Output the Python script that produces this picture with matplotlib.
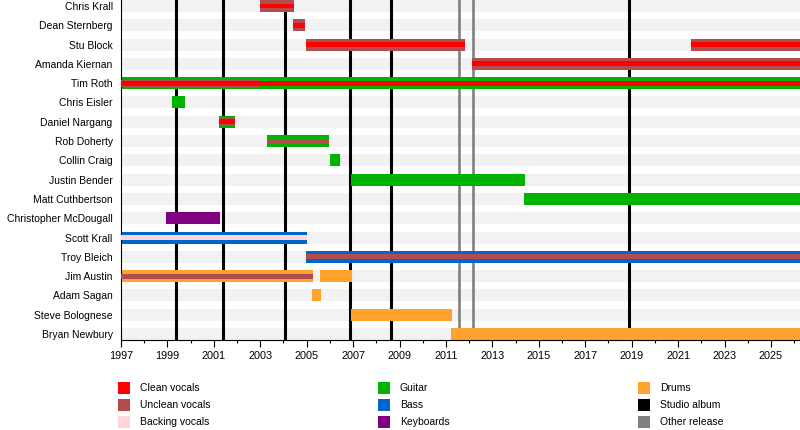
import matplotlib
matplotlib.use("Agg")
import matplotlib.pyplot as plt
from matplotlib.patches import Rectangle

plt.rcParams['font.family'] = ['Liberation Sans', 'DejaVu Sans']

# ---------------- data ----------------
members = ["Chris Krall", "Dean Sternberg", "Stu Block", "Amanda Kiernan", "Tim Roth",
           "Chris Eisler", "Daniel Nargang", "Rob Doherty", "Collin Craig", "Justin Bender",
           "Matt Cuthbertson", "Christopher McDougall", "Scott Krall", "Troy Bleich",
           "Jim Austin", "Adam Sagan", "Steve Bolognese", "Bryan Newbury"]

start_year = 1997
end_year = 2026.25   # "present"

# each period: member, role, start, end, rank (0 = primary role, 1 = second, 2 = third)
bar_member = ["Chris Krall", "Chris Krall",
              "Dean Sternberg", "Dean Sternberg",
              "Stu Block", "Stu Block", "Stu Block", "Stu Block",
              "Amanda Kiernan", "Amanda Kiernan",
              "Tim Roth", "Tim Roth", "Tim Roth",
              "Chris Eisler",
              "Daniel Nargang", "Daniel Nargang", "Daniel Nargang",
              "Rob Doherty", "Rob Doherty",
              "Collin Craig",
              "Justin Bender",
              "Matt Cuthbertson",
              "Christopher McDougall",
              "Scott Krall", "Scott Krall",
              "Troy Bleich", "Troy Bleich",
              "Jim Austin", "Jim Austin", "Jim Austin",
              "Adam Sagan",
              "Steve Bolognese",
              "Bryan Newbury"]
bar_role = ["Unclean vocals", "Clean vocals",
            "Unclean vocals", "Clean vocals",
            "Unclean vocals", "Clean vocals", "Unclean vocals", "Clean vocals",
            "Unclean vocals", "Clean vocals",
            "Guitar", "Unclean vocals", "Clean vocals",
            "Guitar",
            "Guitar", "Unclean vocals", "Clean vocals",
            "Guitar", "Unclean vocals",
            "Guitar",
            "Guitar",
            "Guitar",
            "Keyboards",
            "Bass", "Backing vocals",
            "Bass", "Unclean vocals",
            "Drums", "Unclean vocals", "Drums",
            "Drums",
            "Drums",
            "Drums"]
bar_start = [2003.0, 2003.0,
             2004.42, 2004.42,
             2004.98, 2004.98, 2021.56, 2021.56,
             2012.13, 2012.13,
             1997.0, 1997.0, 1997.0,
             1999.2,
             2001.22, 2001.22, 2001.22,
             2003.29, 2003.29,
             2006.0,
             2006.9,
             2014.36,
             1998.94,
             1997.0, 1997.0,
             2004.98, 2004.98,
             1997.0, 1997.0, 2005.58,
             2005.23,
             2006.9,
             2011.2]
bar_end = [2004.45, 2004.45,
           2004.93, 2004.93,
           2011.82, 2011.82, end_year, end_year,
           end_year, end_year,
           end_year, 2003.0, end_year,
           1999.76,
           2001.91, 2001.91, 2001.91,
           2005.96, 2005.96,
           2006.44,
           2014.4,
           end_year,
           2001.27,
           2005.0, 2005.0,
           end_year, end_year,
           2005.25, 2005.25, 2006.94,
           2005.62,
           2011.26,
           end_year]
bar_rank = [0, 2,
            0, 2,
            0, 2, 0, 2,
            0, 2,
            0, 1, 2,
            0,
            0, 1, 2,
            0, 2,
            0,
            0,
            0,
            0,
            0, 2,
            0, 2,
            0, 2, 0,
            0,
            0,
            0]

studio_albums = [1999.37, 2001.39, 2004.07, 2006.87, 2008.63, 2018.89]
other_releases = [2011.56, 2012.17]

roles = ["Clean vocals", "Unclean vocals", "Backing vocals", "Guitar", "Bass",
         "Keyboards", "Drums", "Studio album", "Other release"]
role_colors = {"Clean vocals": "#ff0000", "Unclean vocals": "#b34d4d",
               "Backing vocals": "#ffd6dc", "Guitar": "#00b300", "Bass": "#0066cc",
               "Keyboards": "#800080", "Drums": "#ffa22e",
               "Studio album": "#000000", "Other release": "#808080"}

# ---------------- figure ----------------
W, H = 800, 430
fig = plt.figure(figsize=(W / 100, H / 100), dpi=100)
ax = fig.add_axes([121 / W, 90 / H, 679 / W, 340 / H])

n = len(members)
row_of = {m: i for i, m in enumerate(members)}
rank_height = {0: 0.62, 1: 0.38, 2: 0.25}

# background bands
for i in range(n):
    ax.barh(i, end_year - start_year, left=start_year, height=0.62,
            color="#f2f2f2", zorder=0, linewidth=0)

# release lines
for x in studio_albums:
    ax.axvline(x, color=role_colors["Studio album"], lw=2.2, zorder=1)
for x in other_releases:
    ax.axvline(x, color=role_colors["Other release"], lw=1.9, zorder=1)

# bars
for rank in (0, 1, 2):
    for m, r, s, e, k in zip(bar_member, bar_role, bar_start, bar_end, bar_rank):
        if k != rank:
            continue
        ax.barh(row_of[m], e - s, left=s, height=rank_height[k],
                color=role_colors[r], zorder=2 + k, linewidth=0)

ax.set_xlim(start_year, end_year)
ax.set_ylim(n - 1 + 0.31, -0.31)
ax.set_yticks(range(n))
ax.set_yticklabels(members, fontsize=7.5)
ax.tick_params(axis="y", length=0, pad=6)
ax.set_xticks(range(1997, 2027, 2))
ax.set_xticks(range(1997, 2027, 1), minor=True)
ax.tick_params(axis="x", which="major", length=5, width=0.8, labelsize=7.8, pad=3)
ax.tick_params(axis="x", which="minor", length=2.5, width=0.8)
for side in ("top", "right"):
    ax.spines[side].set_visible(False)
for side in ("left", "bottom"):
    ax.spines[side].set_linewidth(0.8)
    ax.spines[side].set_color("black")

# legend (three columns)
col_x = [118, 378, 638]
row_y = [388, 405, 422]
for idx, role in enumerate(roles):
    c, r = divmod(idx, 3)
    x0, yc = col_x[c], row_y[r]
    fig.patches.append(Rectangle((x0 / W, 1 - (yc + 6) / H), 12 / W, 12 / H,
                                 transform=fig.transFigure,
                                 color=role_colors[role], linewidth=0))
    fig.text((x0 + 22) / W, 1 - yc / H, role, fontsize=7.5, va="center", ha="left")

fig.savefig("out.png", dpi=100)
